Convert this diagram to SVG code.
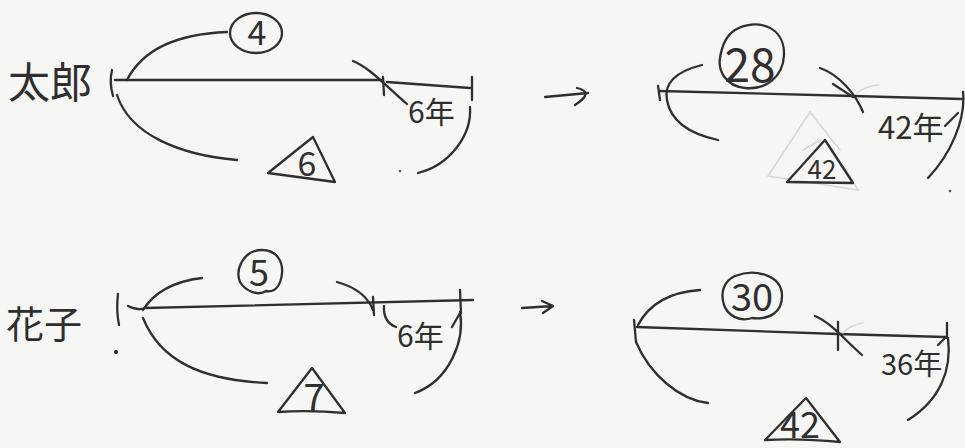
<svg xmlns="http://www.w3.org/2000/svg" width="965" height="448" viewBox="0 0 965 448">
<style>
.s{fill:none;stroke:#2f2f2f;stroke-width:2.3;stroke-linecap:round;stroke-linejoin:round}
.f{fill:none;stroke:#d6d6d4;stroke-width:1.5;stroke-linecap:round}
.t{fill:#2f2f2f;font-family:"Noto Sans CJK JP","Noto Sans",sans-serif;font-weight:400}
.m{text-anchor:middle}
</style>
<rect width="965" height="448" fill="#f6f6f4"/>

<!-- Diagram 1: 太郎 -->
<g id="taro">
  <text class="t" x="8" y="98" font-size="42">太郎</text>
  <g id="taro-line">
    <path class="s" d="M112,70 Q109,82 113,96"/>
    <path class="s" d="M115,80 L383,80"/>
    <path class="s" d="M387,82 L470,88"/>
    <path class="s" d="M383,77 L384,95"/>
    <path class="s" d="M472,77 L472,100"/>
  </g>
  <g id="taro-circle">
    <path class="s" d="M127,80 Q150,35 227,32"/>
    <ellipse class="s" cx="256" cy="33" rx="26" ry="20"/>
    <text class="t m" x="257" y="45" font-size="34">4</text>
  </g>
  <g id="taro-years">
    <path class="s" d="M353,61 C370,68 385,85 407,104"/>
    <text class="t" x="408" y="123" font-size="30">6年</text>
  </g>
  <g id="taro-triangle">
    <path class="s" d="M117,95 C130,135 180,155 237,160"/>
    <path class="s" d="M470,107 C472,135 450,165 418,173"/>
    <path class="s" d="M268,173 L313,137 L335,182 Z"/>
    <text class="t m" x="307" y="176" font-size="34">6</text>
  </g>
  <circle cx="400" cy="171" r="1.3" fill="#555"/>
</g>

<!-- Arrows -->
<g id="arrows">
  <path class="s" d="M545,97 L588,93 M577,88 Q595,92 575,105"/>
  <path class="s" d="M522,308 L553,306 M542,301 L553,306 L543,313"/>
</g>

<!-- Diagram 2: 28 / 42年 -->
<g id="taro-result">
  <g id="r1-line">
    <path class="s" d="M658,86 L660,100"/>
    <path class="s" d="M660,91 L853,96 L962,99"/>
  </g>
  <g id="r1-circle">
    <path class="s" d="M702,65 Q662,75 667,100 Q672,130 718,140"/>
    <path class="s" d="M735,30 C755,18 785,25 784,55 C783,78 765,90 745,88 C725,86 718,70 720,58 C722,45 727,35 735,30 Z"/>
    <text class="t m" x="750" y="82" font-size="46">28</text>
  </g>
  <g id="r1-years">
    <path class="s" d="M820,68 C840,75 856,95 863,112"/>
    <path class="s" d="M833,84 L853,97"/>
    <path class="f" d="M857,93 Q866,86 878,85"/>
    <path class="s" d="M963,92 C966,120 950,155 928,178"/>
    <path class="s" d="M945,126 L958,113"/>
    <text class="t" x="878" y="139" font-size="31">42年</text>
  </g>
  <g id="r1-triangle">
    <path class="f" d="M810,112 L768,176 L858,190 L843,165"/>
    <path class="f" d="M810,112 L840,150"/>
    <path class="f" d="M803,150 L820,140"/>
    <path class="s" d="M787,182 L825,140 L853,183 Z"/>
    <text class="t m" x="822" y="179" font-size="26">42</text>
  </g>
  <circle cx="950" cy="191" r="1.3" fill="#555"/>
</g>

<!-- Diagram 3: 花子 -->
<g id="hanako">
  <text class="t" x="6" y="338" font-size="38">花子</text>
  <g id="hanako-line">
    <path class="s" d="M118,294 Q116,310 119,325"/>
    <path class="s" d="M128,306 Q138,311 145,308 L473,300"/>
    <path class="s" d="M373,297 L374,315"/>
    <path class="s" d="M460,290 L461,313"/>
  </g>
  <g id="hanako-circle">
    <path class="s" d="M143,310 Q160,283 202,278"/>
    <path class="s" d="M262,250 C277,250 283,262 282,273 C281,284 276,293 266,291 C259,296 246,292 240,282 C235,270 243,250 262,250 Z"/>
    <text class="t m" x="259" y="286" font-size="36">5</text>
  </g>
  <g id="hanako-years">
    <path class="s" d="M337,282 C355,287 368,297 373,310"/>
    <path class="s" d="M384,306 Q383,322 396,327"/>
    <path class="s" d="M460,312 C465,340 450,380 415,393"/>
    <path class="s" d="M452,327 L460,313"/>
    <text class="t" x="397" y="347" font-size="30">6年</text>
  </g>
  <g id="hanako-triangle">
    <path class="s" d="M143,318 C160,360 200,380 267,383"/>
    <path class="s" d="M278,412 L312,368 L345,413 Q310,410 278,412 Z"/>
    <text class="t m" x="314" y="411" font-size="38">7</text>
  </g>
  <circle cx="116" cy="352" r="2" fill="#222"/>
</g>

<!-- Diagram 4: 30 / 36年 -->
<g id="hanako-result">
  <g id="r2-line">
    <path class="s" d="M634,320 L636,342"/>
    <path class="s" d="M637,327 L838,334 L945,337"/>
    <path class="s" d="M838,322 L838,350"/>
    <path class="s" d="M947,323 L947,338"/>
  </g>
  <g id="r2-circle">
    <path class="s" d="M638,325 Q655,293 700,290"/>
    <path class="s" d="M735,276 C755,268 782,275 782,296 C782,312 770,320 752,318 C740,322 728,316 724,305 C720,292 724,281 735,276 Z"/>
    <text class="t m" x="752" y="311" font-size="38">30</text>
  </g>
  <g id="r2-years">
    <path class="s" d="M815,316 C830,322 845,340 862,355"/>
    <path class="f" d="M843,333 Q850,325 863,323"/>
    <path class="s" d="M948,338 C952,370 940,400 908,420"/>
    <path class="s" d="M938,345 L946,337"/>
    <text class="t" x="881" y="375" font-size="29">36年</text>
  </g>
  <g id="r2-triangle">
    <path class="s" d="M636,342 C650,375 680,400 708,403"/>
    <path class="s" d="M765,440 L806,398 L840,442 Q800,438 765,440 Z"/>
    <text class="t m" x="800" y="438" font-size="36">42</text>
  </g>
</g>
</svg>
